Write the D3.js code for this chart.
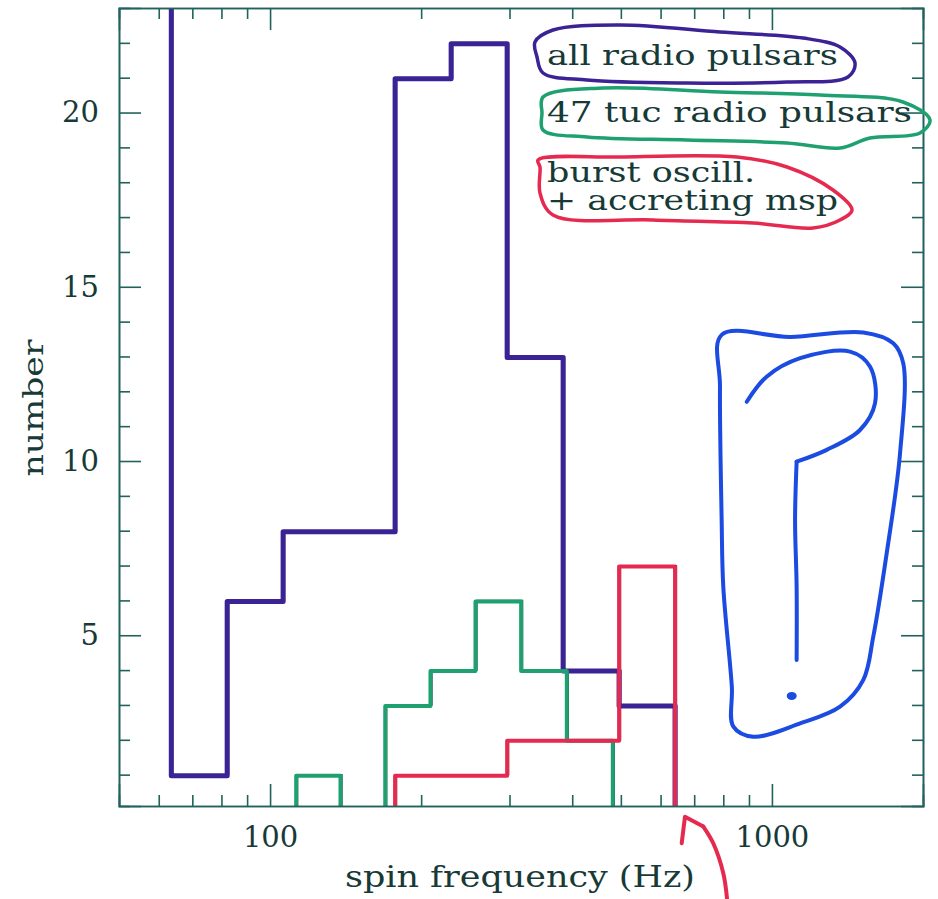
<!DOCTYPE html>
<html lang="en">
  <head>
    <meta charset="utf-8">
    <title>Spin frequency histogram</title>
    <style>
      body { margin: 0; background: #fff; }
      text { font-family: "DejaVu Serif", serif; fill: #173a37; }
    </style>
  </head>
  <body>

<script src="https://d3js.org/d3.v7.min.js"></script>

<script>
// bin edges (Hz) and counts
var allEdges   = [49.5, 64, 82.7, 106.9, 138.2, 178.7, 231.1, 298.8, 386.3, 499.4, 645.6];
var allCounts  = [30, 1, 6, 8, 8, 21, 22, 13, 4, 3];
var tucEdges   = [113.5, 139.1, 170.8, 210.2, 258.4, 318.6, 392.9, 485.2];
var tucCounts  = [1, 0, 3, 4, 6, 4, 2];
var burstEdges  = [178.7, 231.1, 298.8, 386.3, 499.4, 645.6];
var burstCounts = [1, 1, 2, 2, 7];

var xMajor = [100, 1000];
var xMinor = [60, 70, 80, 90, 200, 300, 400, 500, 600, 700, 800, 900];
var yMajor = [5, 10, 15, 20];
var yMinor = d3.range(1, 23).filter(function(v) { return v % 5 !== 0; });

var legendLabels = ["all radio pulsars", "47 tuc radio pulsars", "burst oscill.", "+ accreting msp"];

// hand-drawn question mark and arrow, in data units (Hz, number)
var qBox = [[794,13.62],[1087,13.56],[1521,13.69],[1745,13.38],[1827,12.80],[1800,10.22],
            [1693,7.35],[1592,4.96],[1521,3.72],[1367,2.95],[1138,2.47],[918,2.09],
            [838,2.38],[832,3.52],[800,6.39],[794,8.31],[788,12.13]];
var qHook = [[891,11.70],[976,12.42],[1138,12.95],[1431,13.14],[1568,12.71],[1605,11.66],
             [1498,10.89],[1286,10.32],[1120,9.98]];
var qStem = [[1120,9.98],[1112,8.31],[1120,6.39],[1120,4.29]];
var qDot  = [1095, 3.26];
var arrowHead  = [[661,-0.97],[671,-0.21],[730,-0.49]];
var arrowShaft = [[730,-0.49],[764,-0.97],[800,-1.83],[814,-2.57]];

var W = 938, H = 899;
var margin = {top: 8, right: 15, bottom: 93, left: 119};

var x = d3.scaleLog().domain([50, 2000]).range([margin.left, W - margin.right]);
var y = d3.scaleLinear().domain([0.1, 23]).range([H - margin.bottom, margin.top]);

var svg = d3.select('body').append('svg')
  .attr('width', W)
  .attr('height', H);

svg.append('clipPath').attr('id', 'plot')
  .append('rect')
    .attr('x', x.range()[0]).attr('y', y.range()[1])
    .attr('width', x.range()[1] - x.range()[0])
    .attr('height', y.range()[0] - y.range()[1]);

// turns a histogram into the outline of each run of non-empty bins
function outlines(edges, counts) {
  var runs = [], cur = null;
  counts.forEach(function(c, i) {
    if (c > 0) {
      if (!cur) { cur = [[edges[i], 0]]; }
      cur.push([edges[i], c], [edges[i + 1], c]);
    } else if (cur) {
      cur.push([edges[i], 0]); runs.push(cur); cur = null;
    }
  });
  if (cur) { cur.push([edges[counts.length], 0]); runs.push(cur); }
  return runs;
}

var line = d3.line().x(function(d) { return x(d[0]); }).y(function(d) { return y(d[1]); });
var smooth = d3.line().x(function(d) { return x(d[0]); }).y(function(d) { return y(d[1]); })
  .curve(d3.curveCatmullRom.alpha(0.5));

var hists = [
  {edges: allEdges, counts: allCounts, color: '#3b2396', w: 5},
  {edges: tucEdges, counts: tucCounts, color: '#1fa070', w: 4},
  {edges: burstEdges, counts: burstCounts, color: '#e6294f', w: 4}
];

var plot = svg.append('g').attr('clip-path', 'url(#plot)');

// printed histograms, thin
hists.forEach(function(h) {
  plot.selectAll(null)
    .data(outlines(h.edges, h.counts))
    .enter().append('path')
      .attr('d', line)
      .attr('fill', 'none')
      .attr('stroke', '#1c2e2b')
      .attr('stroke-width', 1.2);
});

// marker traces drawn over them, a little off the printed line
hists.forEach(function(h) {
  plot.selectAll(null)
    .data(outlines(h.edges, h.counts))
    .enter().append('path')
      .attr('d', line)
      .attr('transform', 'translate(-1.5,1)')
      .attr('fill', 'none')
      .attr('stroke', h.color)
      .attr('stroke-width', h.w)
      .attr('stroke-linejoin', 'round')
      .attr('stroke-linecap', 'round');
});

// frame + ticks on all four sides (pointing in)
var axisColor = '#22625c';
function drawAxis(axis, tx, ty) {
  var g = svg.append('g').attr('transform', 'translate(' + tx + ',' + ty + ')').call(axis);
  g.select('.domain').attr('stroke', axisColor).attr('stroke-width', 1.6);
  g.selectAll('.tick line').attr('stroke', axisColor).attr('stroke-width', 1.6);
  return g;
}
var x0 = x.range()[0], x1 = x.range()[1], y0 = y.range()[0], y1 = y.range()[1];

drawAxis(d3.axisBottom(x).tickValues(xMinor).tickSize(-11).tickFormat(''), 0, y0);
drawAxis(d3.axisTop(x).tickValues(xMinor).tickSize(-11).tickFormat(''), 0, y1);
drawAxis(d3.axisTop(x).tickValues(xMajor).tickSize(-22).tickFormat(''), 0, y1);
drawAxis(d3.axisLeft(y).tickValues(yMinor).tickSize(-11).tickFormat(''), x0, 0);
drawAxis(d3.axisRight(y).tickValues(yMinor).tickSize(-11).tickFormat(''), x1, 0);
drawAxis(d3.axisRight(y).tickValues(yMajor).tickSize(-22).tickFormat(''), x1, 0);

var xb = drawAxis(d3.axisBottom(x).tickValues(xMajor).tickSize(-22).tickPadding(20)
  .tickFormat(d3.format('d')), 0, y0);
xb.selectAll('text').attr('font-size', 29).attr('fill', '#173a37')
  .attr('font-family', '"DejaVu Serif", serif');

var yl = drawAxis(d3.axisLeft(y).tickValues(yMajor).tickSize(-22).tickPadding(20)
  .tickFormat(d3.format('d')), x0, 0);
yl.selectAll('text').attr('font-size', 29).attr('fill', '#173a37')
  .attr('font-family', '"DejaVu Serif", serif');

// axis titles
svg.append('text')
  .attr('x', (x0 + x1) / 2 - 1)
  .attr('y', 887)
  .attr('text-anchor', 'middle')
  .attr('font-size', 29)
  .attr('textLength', 350)
  .attr('lengthAdjust', 'spacingAndGlyphs')
  .text('spin frequency (Hz)');

svg.append('text')
  .attr('transform', 'translate(43,408) rotate(-90)')
  .attr('text-anchor', 'middle')
  .attr('font-size', 27)
  .attr('textLength', 137)
  .attr('lengthAdjust', 'spacingAndGlyphs')
  .text('number');

// legend, with the loops drawn round each entry (offsets from text anchor)
var legend = [
  {lines: [legendLabels[0]], lens: [291], x: 547, y: 65, color: '#3b2396',
   loop: [[-12,-23],[6,-35],[73,-40],[173,-33],[256,-27],[293,-18],[308,-2],[301,12],
          [240,17],[140,18],[40,15],[-4,8],[-10,-8]]},
  {lines: [legendLabels[1]], lens: [365], x: 547, y: 122, color: '#1fa070',
   loop: [[-4,-25],[56,-34],[173,-30],[273,-27],[356,-20],[383,-2],[373,11],[323,16],
          [293,26],[240,21],[140,18],[40,15],[-4,8],[-5,-9]]},
  {lines: [legendLabels[2], legendLabels[3]], lens: [208, 291], x: 547, y: 182, color: '#e6294f',
   loop: [[-9,-22],[73,-25],[190,-25],[240,-15],[286,8],[305,28],[293,38],[266,46],
          [206,41],[106,38],[6,33],[-7,11],[-7,-15]]}
];

var loopLine = d3.line().curve(d3.curveCatmullRomClosed.alpha(0.5));

legend.forEach(function(l) {
  svg.append('path')
    .attr('d', loopLine(l.loop.map(function(p) { return [l.x + p[0], l.y + p[1]]; })))
    .attr('fill', 'none')
    .attr('stroke', l.color)
    .attr('stroke-width', 3.5);
  l.lines.forEach(function(t, i) {
    svg.append('text')
      .attr('x', l.x)
      .attr('y', l.y + i * 28)
      .attr('font-size', 27)
      .attr('textLength', l.lens[i])
      .attr('lengthAdjust', 'spacingAndGlyphs')
      .text(t);
  });
});

// the blue question mark
var blue = '#1b4be0';
svg.append('path').attr('d', smooth.curve(d3.curveCatmullRomClosed.alpha(0.5))(qBox))
  .attr('fill', 'none').attr('stroke', blue).attr('stroke-width', 4);
smooth.curve(d3.curveCatmullRom.alpha(0.5));
svg.append('path').attr('d', smooth(qHook))
  .attr('fill', 'none').attr('stroke', blue).attr('stroke-width', 4).attr('stroke-linecap', 'round');
svg.append('path').attr('d', smooth(qStem))
  .attr('fill', 'none').attr('stroke', blue).attr('stroke-width', 4).attr('stroke-linecap', 'round');
svg.append('ellipse')
  .attr('cx', x(qDot[0])).attr('cy', y(qDot[1]))
  .attr('rx', 5).attr('ry', 4)
  .attr('fill', blue);

// red arrow pointing at the cut-off
svg.append('path').attr('d', line(arrowHead))
  .attr('fill', 'none').attr('stroke', '#e6294f').attr('stroke-width', 4)
  .attr('stroke-linejoin', 'round').attr('stroke-linecap', 'round');
svg.append('path').attr('d', smooth(arrowShaft))
  .attr('fill', 'none').attr('stroke', '#e6294f').attr('stroke-width', 4)
  .attr('stroke-linecap', 'round');
</script>

  </body>
</html>
